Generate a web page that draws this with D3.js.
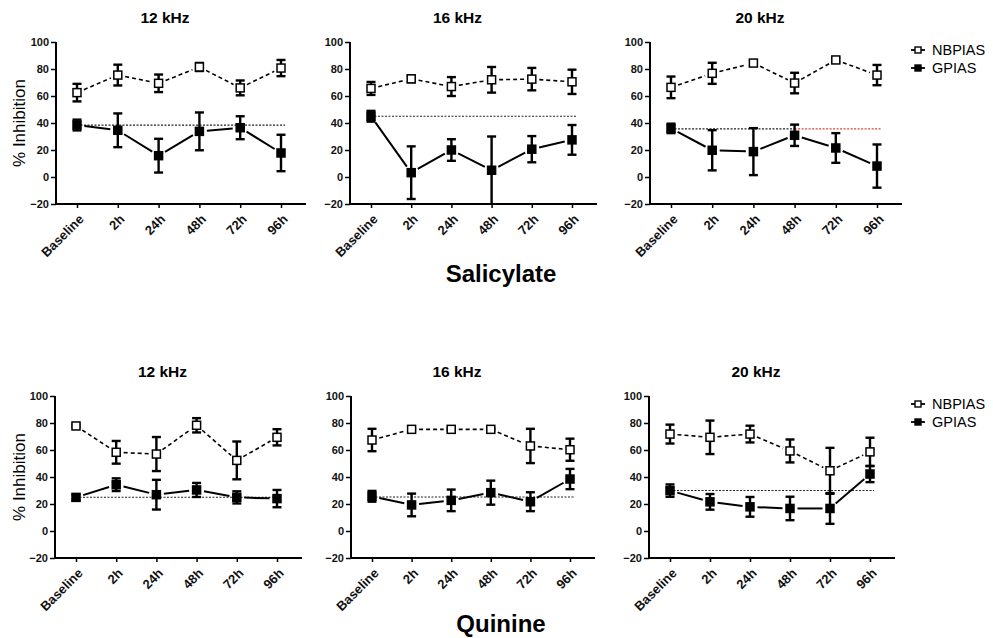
<!DOCTYPE html>
<html>
<head>
<meta charset="utf-8">
<script src="https://cdn.jsdelivr.net/npm/d3@7"></script>
<style>
  body { margin: 0; background: #fff; }
  svg { display: block; font-family: "Liberation Sans", Arial, sans-serif; }
</style>
</head>
<body>
<main></main>
<script>
// categories
const timepoints = ["Baseline", "2h", "24h", "48h", "72h", "96h"];
const frequencies = ["12 kHz", "16 kHz", "20 kHz"];
const drugs = ["Salicylate", "Quinine"];
const seriesNames = ["NBPIAS", "GPIAS"];
const yTicks = [-20, 0, 20, 40, 60, 80, 100];

// salicylate, one row per frequency (12, 16, 20 kHz)
const salNbpiasMean = [
  [62.5, 75.5, 69.4, 81.5, 66.0, 80.7],
  [65.6, 72.7, 67.0, 72.0, 72.5, 70.5],
  [66.4, 76.8, 84.4, 69.6, 86.7, 75.5]
];
const salNbpiasErr = [
  [6.5, 7.7, 6.5, 3.0, 5.5, 6.0],
  [4.8, 2.5, 7.0, 9.5, 8.3, 9.0],
  [8.0, 7.8, 2.0, 7.6, 1.5, 7.5]
];
const salGpiasMean = [
  [38.5, 34.6, 15.8, 33.8, 36.5, 17.8],
  [45.0, 3.2, 20.0, 5.0, 20.6, 27.5],
  [36.0, 19.8, 18.8, 30.9, 21.5, 8.1]
];
const salGpiasErr = [
  [4.0, 12.5, 12.5, 14.0, 8.5, 13.5],
  [4.0, 19.5, 8.0, 25.0, 9.7, 11.0],
  [3.5, 14.9, 17.4, 7.9, 11.0, 16.0]
];
const salReference = [38.5, 45.0, 35.6];

// quinine
const quiNbpiasMean = [
  [77.8, 58.3, 57.0, 78.3, 52.3, 69.4],
  [67.4, 75.3, 75.3, 75.3, 63.0, 60.2],
  [71.8, 69.4, 71.8, 59.3, 44.6, 58.6]
];
const quiNbpiasErr = [
  [1.0, 8.4, 12.6, 5.3, 14.0, 6.0],
  [8.3, 0.8, 0.8, 0.8, 12.7, 8.2],
  [7.0, 12.4, 6.2, 8.5, 17.0, 10.5]
];
const quiGpiasMean = [
  [24.9, 34.3, 26.9, 30.4, 24.9, 24.0],
  [25.7, 19.3, 22.7, 28.4, 21.7, 38.5],
  [29.9, 21.6, 17.9, 16.7, 16.7, 42.2]
];
const quiGpiasErr = [
  [2.2, 4.7, 11.0, 5.2, 4.5, 6.4],
  [4.0, 8.4, 8.0, 8.9, 7.0, 7.5],
  [4.6, 5.8, 7.3, 8.7, 11.4, 6.0]
];
const quiReference = [25.0, 25.2, 30.0];

const width = 993, height = 638;

const svg = d3.select("main").append("svg")
  .attr("width", width)
  .attr("height", height)
  .attr("viewBox", [0, 0, width, height]);

// layout of the two rows of panels
const rows = [
  { drug: drugs[0], top: 42, bottom: 204, titleY: 23, labelY: 282,
    xl: [56, 350, 650], xr: [306, 597, 902], legendY: 50,
    nbM: salNbpiasMean, nbE: salNbpiasErr, gM: salGpiasMean, gE: salGpiasErr, ref: salReference },
  { drug: drugs[1], top: 396, bottom: 558, titleY: 377, labelY: 632,
    xl: [55, 351, 649], xr: [302, 595, 895], legendY: 404,
    nbM: quiNbpiasMean, nbE: quiNbpiasErr, gM: quiGpiasMean, gE: quiGpiasErr, ref: quiReference }
];

// shorten a segment so the line stops short of the markers
function trimmed(p, q, gap) {
  const dx = q[0] - p[0], dy = q[1] - p[1];
  const len = Math.hypot(dx, dy);
  if (len < gap * 2 + 1) return null;
  const ux = dx / len, uy = dy / len;
  return [p[0] + ux * gap, p[1] + uy * gap, q[0] - ux * gap, q[1] - uy * gap];
}

rows.forEach((row, ri) => {
  frequencies.forEach((freq, fi) => {
    const g = svg.append("g");
    const x0 = row.xl[fi], x1 = row.xr[fi];

    const x = d3.scalePoint()
      .domain(timepoints)
      .range([x0 + 21, x1 - 25]);
    const y = d3.scaleLinear()
      .domain([-20, 100])
      .range([row.bottom, row.top]);

    // title
    g.append("text")
      .attr("x", (x0 + x1) / 2 - 16)
      .attr("y", row.titleY)
      .attr("text-anchor", "middle")
      .attr("font-size", 15.5)
      .attr("font-weight", "bold")
      .text(freq);

    // y axis
    const yAxis = g.append("g")
      .attr("transform", `translate(${x0},0)`)
      .call(d3.axisLeft(y).tickValues(yTicks).tickSize(5).tickPadding(2).tickFormat(d3.format("d")));
    yAxis.select(".domain").attr("stroke-width", 2).attr("d", `M0,${row.top}V${row.bottom}`);
    yAxis.selectAll(".tick line").attr("stroke-width", 1.5);
    yAxis.selectAll(".tick text")
      .attr("font-size", 11)
      .attr("font-weight", "bold")
      .attr("font-family", "Liberation Sans, Arial, sans-serif")
      .attr("fill", "#111");

    // x axis
    const xAxis = g.append("g")
      .attr("transform", `translate(0,${row.bottom})`)
      .call(d3.axisBottom(x).tickSize(4).tickSizeOuter(0));
    xAxis.select(".domain").attr("stroke-width", 2).attr("d", `M${x0 - 1},0H${x1}`);
    xAxis.selectAll(".tick line").attr("stroke-width", 1.5);
    xAxis.selectAll(".tick text")
      .attr("font-size", 13)
      .attr("font-weight", "bold")
      .attr("font-family", "Liberation Sans, Arial, sans-serif")
      .attr("fill", "#111")
      .attr("text-anchor", "end")
      .attr("dy", null)
      .attr("y", null)
      .attr("transform", "translate(7,16) rotate(-45)");

    // y label on the left panels
    if (fi === 0) {
      g.append("text")
        .attr("transform", `translate(25,${(row.top + row.bottom) / 2}) rotate(-90)`)
        .attr("text-anchor", "middle")
        .attr("font-size", 17)
        .text("% Inhibition");
    }

    // reference line at the baseline GPIAS value
    const refY = y(row.ref[fi]);
    const refStart = x(timepoints[0]);
    const refEnd = x(timepoints[timepoints.length - 1]) + 4;
    const redFrom = (ri === 0 && fi === 2) ? x(timepoints[3]) : refEnd;
    g.append("line")
      .attr("x1", refStart).attr("x2", redFrom)
      .attr("y1", refY).attr("y2", refY)
      .attr("stroke", "#222").attr("stroke-width", 1.2)
      .attr("stroke-dasharray", "2,1.5");
    if (redFrom < refEnd) {
      g.append("line")
        .attr("x1", redFrom).attr("x2", refEnd)
        .attr("y1", refY).attr("y2", refY)
        .attr("stroke", "#e0403a").attr("stroke-width", 1.2)
        .attr("stroke-dasharray", "2,1.5");
    }

    const series = [
      { name: seriesNames[0], mean: row.nbM[fi], err: row.nbE[fi], open: true },
      { name: seriesNames[1], mean: row.gM[fi], err: row.gE[fi], open: false }
    ];

    series.forEach(s => {
      const pts = timepoints.map((t, i) => [x(t), y(s.mean[i])]);

      // connecting segments
      const segs = d3.pairs(pts).map(([p, q]) => trimmed(p, q, 7.5)).filter(d => d);
      g.append("g").selectAll("line")
        .data(segs)
        .join("line")
          .attr("x1", d => d[0]).attr("y1", d => d[1])
          .attr("x2", d => d[2]).attr("y2", d => d[3])
          .attr("stroke", "#000")
          .attr("stroke-width", s.open ? 1.6 : 2)
          .attr("stroke-dasharray", s.open ? "4,3" : null);

      // error bars
      const eb = g.append("g").attr("stroke", "#000").attr("stroke-width", 2.4);
      timepoints.forEach((t, i) => {
        const cx = x(t);
        const hi = y(s.mean[i] + s.err[i]);
        const lo = y(Math.max(-20, s.mean[i] - s.err[i]));
        eb.append("line").attr("x1", cx).attr("x2", cx).attr("y1", hi).attr("y2", lo);
        eb.append("line").attr("x1", cx - 4.5).attr("x2", cx + 4.5).attr("y1", hi).attr("y2", hi);
        if (s.mean[i] - s.err[i] > -20) {
          eb.append("line").attr("x1", cx - 4.5).attr("x2", cx + 4.5).attr("y1", lo).attr("y2", lo);
        }
      });

      // markers
      g.append("g").selectAll("rect")
        .data(pts)
        .join("rect")
          .attr("x", d => d[0] - 4)
          .attr("y", d => d[1] - 4)
          .attr("width", 8)
          .attr("height", 8)
          .attr("fill", s.open ? "#fff" : "#000")
          .attr("stroke", "#000")
          .attr("stroke-width", 1.5);
    });

    // legend on the right panels
    if (fi === 2) {
      const lg = svg.append("g");
      seriesNames.forEach((name, i) => {
        const ly = row.legendY + i * 18;
        lg.append("line")
          .attr("x1", 911).attr("x2", 925)
          .attr("y1", ly).attr("y2", ly)
          .attr("stroke", "#000").attr("stroke-width", 1.8);
        lg.append("rect")
          .attr("x", 915).attr("y", ly - 3)
          .attr("width", 6).attr("height", 6)
          .attr("fill", i === 0 ? "#fff" : "#000")
          .attr("stroke", "#000").attr("stroke-width", 1.4);
        lg.append("text")
          .attr("x", 932).attr("y", ly)
          .attr("dy", "0.35em")
          .attr("font-size", 14.5)
          .text(name);
      });
    }
  });

  // drug label under the row
  svg.append("text")
    .attr("x", 501)
    .attr("y", row.labelY)
    .attr("text-anchor", "middle")
    .attr("font-size", 24)
    .attr("font-weight", "bold")
    .text(row.drug);
});
</script>
</body>
</html>
